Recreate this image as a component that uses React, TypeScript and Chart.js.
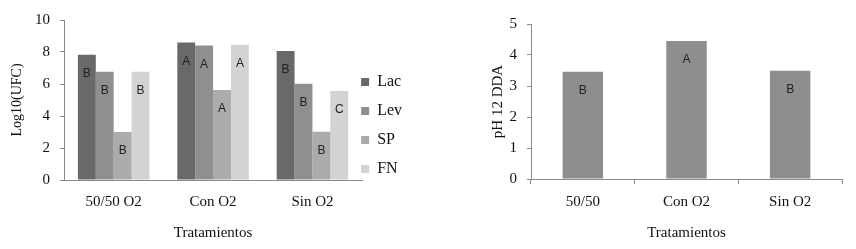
import React, { useEffect, useRef } from "react";
import { Chart, registerables } from "chart.js";

Chart.register(...registerables);

// ---- data (left chart) ----
const categoriesLeft = ["50/50 O2", "Con O2", "Sin O2"];
const lacValues = [7.83, 8.6, 8.06];
const levValues = [6.77, 8.4, 6.02];
const spValues = [3.0, 5.63, 3.02];
const fnValues = [6.77, 8.46, 5.56];
const lacLetters = ["B", "A", "B"];
const levLetters = ["B", "A", "B"];
const spLetters = ["B", "A", "B"];
const fnLetters = ["B", "A", "C"];
const seriesNames = ["Lac", "Lev", "SP", "FN"];

// ---- data (right chart) ----
const categoriesRight = ["50/50", "Con O2", "Sin O2"];
const phValues = [3.46, 4.45, 3.49];
const phLetters = ["B", "A", "B"];

const SERIF = "'Liberation Serif', 'Times New Roman', serif";
const SANS = "'Liberation Sans', Arial, sans-serif";
const AXIS_COLOR = "#8a8a8a";
const TEXT_COLOR = "#111111";

const letterPlugin = {
  id: "barLetters",
  afterDatasetsDraw(chart: any) {
    const ctx = chart.ctx;
    ctx.save();
    ctx.font = `12px ${SANS}`;
    ctx.fillStyle = "#222222";
    ctx.textAlign = "center";
    ctx.textBaseline = "middle";
    chart.data.datasets.forEach((ds: any, i: number) => {
      const meta = chart.getDatasetMeta(i);
      const letters: string[] = ds.letters || [];
      meta.data.forEach((bar: any, j: number) => {
        if (letters[j]) ctx.fillText(letters[j], bar.x, bar.y + 19);
      });
    });
    ctx.restore();
  },
};

const legendShift = {
  id: "legendShift",
  afterLayout(chart: any, _args: any, opts: any) {
    const l = chart.legend;
    if (l && opts && (opts.dx || opts.dy)) {
      l.left += opts.dx || 0;
      l.right += opts.dx || 0;
      l.top += opts.dy || 0;
      l.bottom += opts.dy || 0;
    }
  },
};

function LeftChart() {
  const ref = useRef<HTMLCanvasElement>(null);
  useEffect(() => {
    if (!ref.current) return;
    const colors = ["#696969", "#8f8f8f", "#ababab", "#d3d3d3"];
    const values = [lacValues, levValues, spValues, fnValues];
    const letters = [lacLetters, levLetters, spLetters, fnLetters];
    const chart = new Chart(ref.current, {
      type: "bar",
      data: {
        labels: categoriesLeft,
        datasets: seriesNames.map((name, i) => ({
          label: name,
          data: values[i],
          backgroundColor: colors[i],
          borderWidth: 0,
          barPercentage: 1,
          categoryPercentage: 0.72,
          letters: letters[i],
        })) as any,
      },
      options: {
        animation: false,
        responsive: false,
        layout: { padding: { top: 20, left: 0, right: 4, bottom: 0 } },
        plugins: {
          tooltip: { enabled: false },
          legend: {
            position: "right",
            labels: {
              boxWidth: 8,
              boxHeight: 8,
              padding: 13,
              color: TEXT_COLOR,
              font: { family: SERIF, size: 16 },
            },
          },
          legendShift: { dx: -14, dy: -9 },
        } as any,
        scales: {
          x: {
            grid: { display: true, drawOnChartArea: false, drawTicks: false, color: AXIS_COLOR },
            border: { display: true, color: AXIS_COLOR, width: 1 },
            ticks: { color: TEXT_COLOR, padding: 13, font: { family: SERIF, size: 15 } },
            title: {
              display: true,
              text: "Tratamientos",
              color: TEXT_COLOR,
              font: { family: SERIF, size: 15 },
              padding: { top: 0, bottom: 7 },
            },
            afterFit: (s: any) => {
              s.height = 69;
            },
          },
          y: {
            min: 0,
            max: 10,
            ticks: { stepSize: 2, color: TEXT_COLOR, padding: 10, font: { family: SERIF, size: 15 } },
            grid: { display: true, drawOnChartArea: false, drawTicks: true, tickLength: 4, color: AXIS_COLOR },
            border: { display: true, color: AXIS_COLOR, width: 1 },
            title: {
              display: true,
              text: "Log10(UFC)",
              color: TEXT_COLOR,
              font: { family: SERIF, size: 14 },
              padding: { top: 9, bottom: 0 },
            },
            afterFit: (s: any) => {
              s.width = 64;
            },
          },
        },
      },
      plugins: [letterPlugin, legendShift],
    });
    return () => chart.destroy();
  }, []);
  return <canvas ref={ref} width={430} height={249} style={{ position: "absolute", left: 0, top: 0, display: "block" }} />;
}

function RightChart() {
  const ref = useRef<HTMLCanvasElement>(null);
  useEffect(() => {
    if (!ref.current) return;
    const chart = new Chart(ref.current, {
      type: "bar",
      data: {
        labels: categoriesRight,
        datasets: [
          {
            label: "pH 12 DDA",
            data: phValues,
            backgroundColor: "#8e8e8e",
            borderWidth: 0,
            barPercentage: 1,
            categoryPercentage: 0.39,
            letters: phLetters,
          } as any,
        ],
      },
      options: {
        animation: false,
        responsive: false,
        layout: { padding: { top: 24, left: 0, right: 14, bottom: 0 } },
        plugins: {
          tooltip: { enabled: false },
          legend: { display: false },
        },
        scales: {
          x: {
            grid: { display: true, drawOnChartArea: false, drawTicks: true, tickLength: 5, color: AXIS_COLOR, offset: true },
            border: { display: true, color: AXIS_COLOR, width: 1 },
            ticks: { color: TEXT_COLOR, padding: 9, font: { family: SERIF, size: 15 } },
            title: {
              display: true,
              text: "Tratamientos",
              color: TEXT_COLOR,
              font: { family: SERIF, size: 15 },
              padding: { top: 0, bottom: 7 },
            },
            afterFit: (s: any) => {
              s.height = 70;
            },
          },
          y: {
            min: 0,
            max: 5,
            ticks: { stepSize: 1, color: TEXT_COLOR, padding: 10, font: { family: SERIF, size: 15 } },
            grid: { display: true, drawOnChartArea: false, drawTicks: true, tickLength: 4, color: AXIS_COLOR },
            border: { display: true, color: AXIS_COLOR, width: 1 },
            title: {
              display: true,
              text: "pH 12 DDA",
              color: TEXT_COLOR,
              font: { family: SERIF, size: 15 },
              padding: { top: 59, bottom: 0 },
            },
            afterFit: (s: any) => {
              s.width = 101;
            },
          },
        },
      },
      plugins: [letterPlugin],
    });
    return () => chart.destroy();
  }, []);
  return <canvas ref={ref} width={426} height={249} style={{ position: "absolute", left: 430, top: 0, display: "block" }} />;
}

export default function App() {
  return (
    <div style={{ position: "absolute", left: 0, top: 0, width: 856, height: 249, background: "#ffffff", overflow: "hidden" }}>
      <LeftChart />
      <RightChart />
    </div>
  );
}
